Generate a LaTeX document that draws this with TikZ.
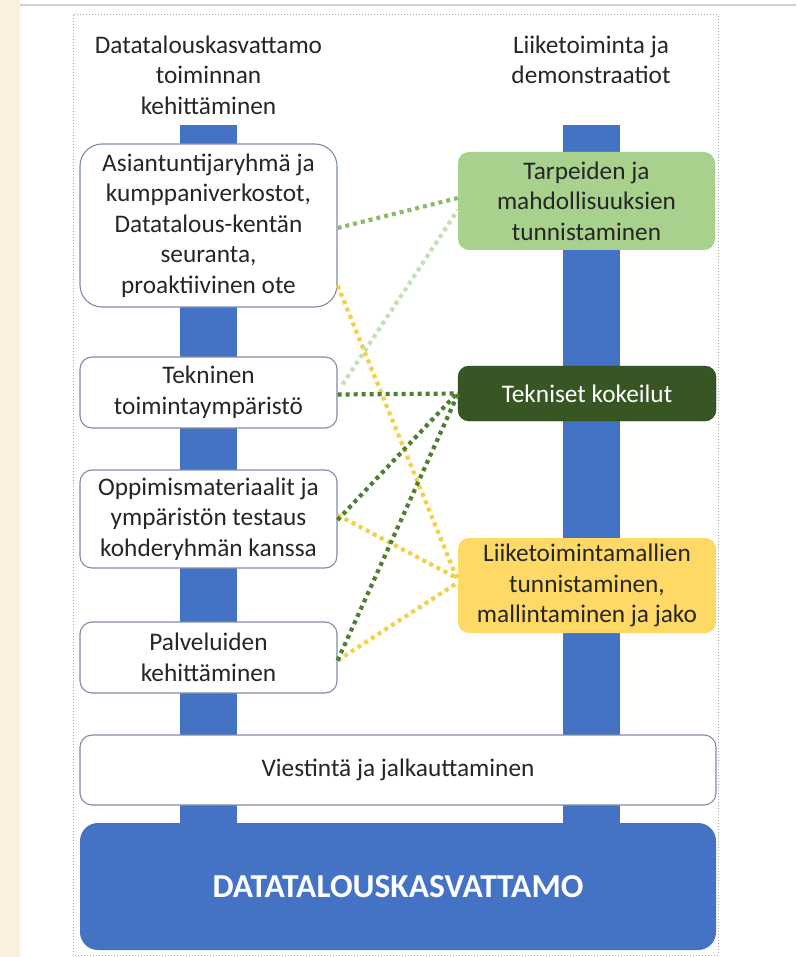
\documentclass[tikz,border=0pt]{standalone}
\usepackage{fontspec}
\setmainfont{Carlito}
\definecolor{beige}{HTML}{FAF0DE}
\definecolor{barblue}{HTML}{4472C4}
\definecolor{boxline}{HTML}{7F8CA6}
\definecolor{txt}{HTML}{262626}
\definecolor{lgreen}{HTML}{A9D18E}
\definecolor{llgreen}{HTML}{C5DFB4}
\definecolor{mgreen}{HTML}{8DBB6E}
\definecolor{dgreen}{HTML}{375623}
\definecolor{dgreenline}{HTML}{4E7F33}
\definecolor{yel}{HTML}{FFD966}
\definecolor{yelline}{HTML}{F2D048}
\newcommand\fs{\fontsize{25.3}{30.5}\selectfont}
\begin{document}
\begin{tikzpicture}[x=1pt,y=-1pt,
  wbox/.style={draw=boxline, line width=1.1pt, fill=white, rounded corners=12pt, align=center, font=\fs, text=txt, inner sep=0pt},
  cbox/.style={rounded corners=11pt, align=center, font=\fs, inner sep=0pt},
  hdr/.style={align=center, font=\fs, text=txt, inner sep=0pt},
  dotline/.style={line width=4.2pt, dash pattern=on 4pt off 4pt}]
\useasboundingbox (0,0) rectangle (796,957);
\fill[white] (0,0) rectangle (796,957);
\fill[beige] (0,0) rectangle (20,957);
\draw[black!18, line width=1.5pt] (20,5) -- (796,5);
\draw[black!35, line width=1pt, dotted] (73,15) rectangle (718,955);
% bars
\fill[barblue] (180,125) rectangle (237,823);
\fill[barblue] (563,125) rectangle (620,823);
% headers
\node[hdr] (h1) at (208.5,75) {Datatalouskasvattamo\\toiminnan\\kehittäminen};
\node[hdr] (h2) at (591,60) {Liiketoiminta ja\\demonstraatiot};
% left boxes
\node[wbox, rounded corners=22pt, minimum width=257pt, minimum height=163pt] (b1) at (208.5,225.5) {Asiantuntijaryhmä ja\\kumppaniverkostot,\\Datatalous-kentän\\seuranta,\\proaktiivinen ote};
\node[wbox, minimum width=257pt, minimum height=71pt] (b2) at (208.5,392.5) {Tekninen\\toimintaympäristö};
\node[wbox, minimum width=257pt, minimum height=98pt] (b3) at (208.5,519) {Oppimismateriaalit ja\\ympäristön testaus\\kohderyhmän kanssa};
\node[wbox, minimum width=257pt, minimum height=71pt] (b4) at (208.5,657.5) {Palveluiden\\kehittäminen};
% right boxes
\node[cbox, fill=lgreen, text=txt, minimum width=257pt, minimum height=98pt] (r1) at (586.5,201) {Tarpeiden ja\\mahdollisuuksien\\tunnistaminen};
\node[cbox, fill=dgreen, draw=dgreen!80!black, text=white, minimum width=258pt, minimum height=55pt] (r2) at (587,393.5) {Tekniset kokeilut};
\node[cbox, fill=yel, text=txt, minimum width=258pt, minimum height=95pt] (r3) at (587,585.5) {Liiketoimintamallien\\tunnistaminen,\\mallintaminen ja jako};
% bottom
\node[wbox, minimum width=636pt, minimum height=70pt] (v) at (398,770) {Viestintä ja jalkauttaminen};
\node[cbox, fill=barblue, text=white, rounded corners=18pt, minimum width=636pt, minimum height=127pt, font=\fontsize{33.5}{40}\selectfont\bfseries] (d) at (398,886.5) {DATATALOUSKASVATTAMO};
% connectors
\draw[dotline, yelline] ([yshift=-60pt]b1.east) -- ([yshift=5pt]r3.west);
\draw[dotline, yelline] ([yshift=4pt]b3.east) -- ([yshift=7pt]r3.west);
\draw[dotline, yelline] ([yshift=-3pt]b4.east) -- ([yshift=3pt]r3.west);
\draw[dotline, mgreen] ([yshift=-2.5pt]b1.east) -- ([yshift=3pt]r1.west);
\draw[dotline, llgreen] ([xshift=5pt,yshift=8pt]b2.east) -- ([yshift=-9pt]r1.west);
\draw[dotline, dgreenline] ([yshift=-2pt]b2.east) -- (r2.west);
\draw[dotline, dgreenline] ([yshift=-1pt]b3.east) -- ([yshift=1pt]r2.west);
\draw[dotline, dgreenline] ([yshift=-3pt]b4.east) -- ([yshift=-1pt]r2.west);
\end{tikzpicture}
\end{document}
